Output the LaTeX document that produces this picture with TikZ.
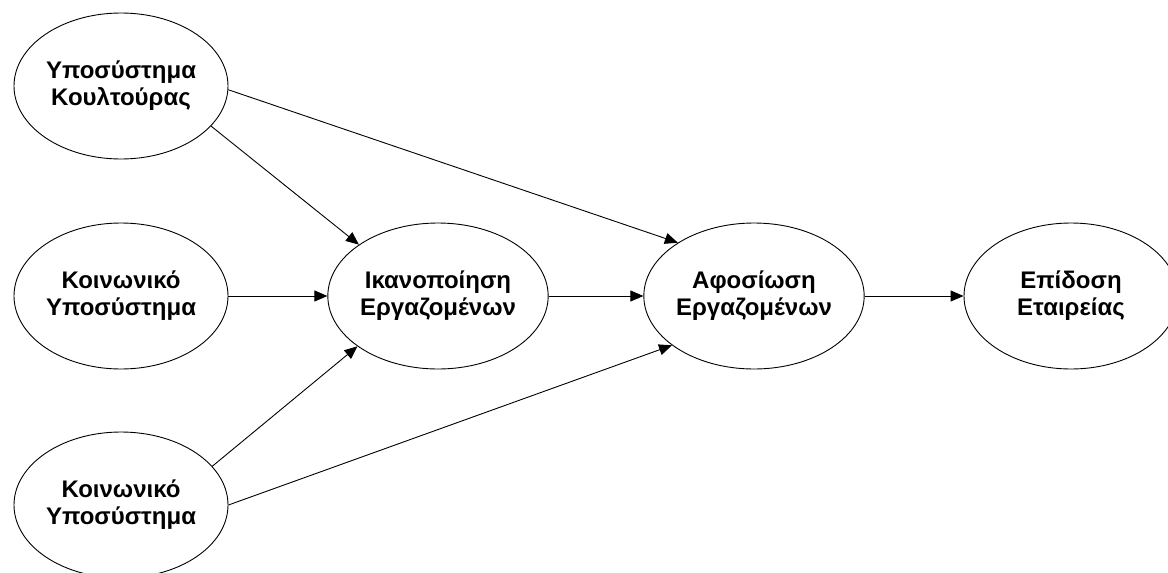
\documentclass[tikz,border=0pt]{standalone}
\usepackage{fontspec}
\setmainfont{Liberation Sans}
\usetikzlibrary{shapes.geometric,arrows.meta}
\begin{document}
\begin{tikzpicture}[x=1pt,y=-1pt,
  factor/.style={draw=black,line width=0.9pt,ellipse,inner sep=0pt,
    minimum width=214pt,minimum height=146pt,align=center,
    font=\fontsize{24}{27}\selectfont\bfseries},
  link/.style={draw=black,line width=0.9pt,-{Triangle[length=13pt,width=11pt]}}]
  \useasboundingbox (0,0) rectangle (1168,573);
  \clip (0,0) rectangle (1168,573);
  \fill[white] (0,0) rectangle (1168,573);

  % left column: the three subsystems
  \node[factor] (cult)  at (121,86)  {Υποσύστημα\\Κουλτούρας};
  \node[factor] (soc1)  at (121,296) {Κοινωνικό\\Υποσύστημα};
  \node[factor] (soc2)  at (121,505) {Κοινωνικό\\Υποσύστημα};
  % middle and right: mediators and outcome
  \node[factor] (satis) at (438,296) {Ικανοποίηση\\Εργαζομένων};
  \node[factor] (commit) at (754,296) {Αφοσίωση\\Εργαζομένων};
  \node[factor] (perf)  at (1071,296) {Επίδοση\\Εταιρείας};

  % paths
  \draw[link] (cult.-2)    -- (commit.145);
  \draw[link] (cult.-24.5) -- (satis.147.5);
  \draw[link] (soc1)       -- (satis);
  \draw[link] (soc2.23.7)  -- (satis.212.5);
  \draw[link] (soc2.0)     -- (commit.211.8);
  \draw[link] (satis)      -- (commit);
  \draw[link] (commit)     -- (perf);
\end{tikzpicture}
\end{document}
